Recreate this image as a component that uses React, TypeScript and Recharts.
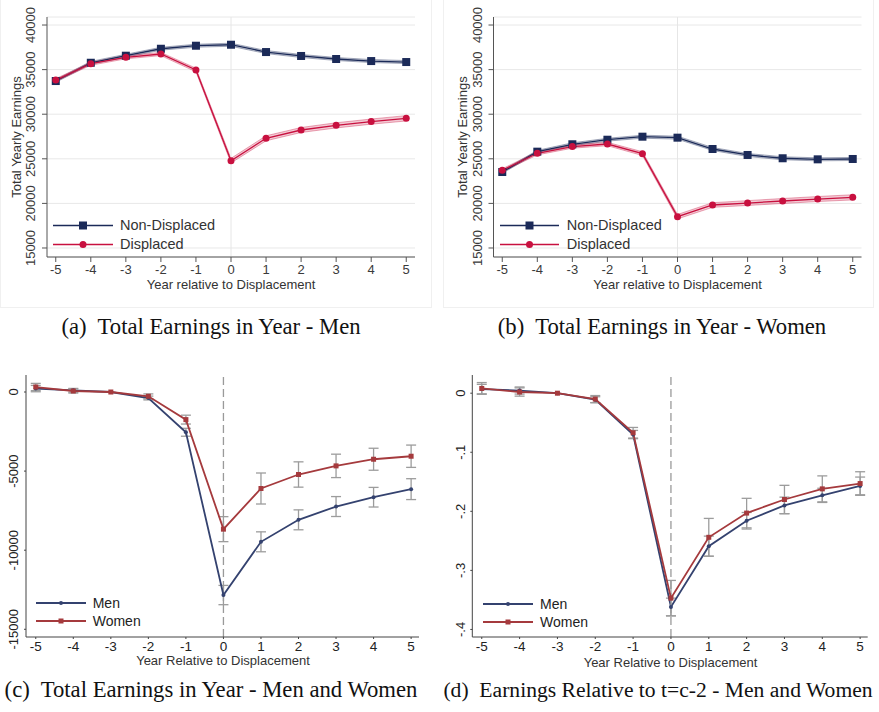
import React from "react";
import {
  ComposedChart, Line, Area, XAxis, YAxis, CartesianGrid,
  ReferenceLine, Legend, ErrorBar,
} from "recharts";

// years relative to displacement
const years = [-5, -4, -3, -2, -1, 0, 1, 2, 3, 4, 5];

// (a) men, total yearly earnings
const nonDispMen = [33720, 35770, 36560, 37340, 37680, 37790, 36970, 36530, 36190, 35960, 35850];
const dispMen = [33830, 35660, 36380, 36750, 34960, 24790, 27300, 28230, 28750, 29170, 29540];
const nonDispMenCi = [150, 150, 160, 160, 170, 170, 170, 170, 170, 170, 170];
const dispMenCi = [160, 170, 170, 180, 200, 260, 280, 280, 290, 290, 300];

// (b) women, total yearly earnings
const nonDispWomen = [23520, 25800, 26630, 27140, 27480, 27370, 26100, 25430, 25060, 24940, 24980];
const dispWomen = [23710, 25620, 26370, 26660, 25580, 18510, 19820, 20040, 20270, 20490, 20680];
const nonDispWomenCi = [150, 150, 160, 160, 170, 170, 170, 170, 170, 170, 170];
const dispWomenCi = [170, 180, 180, 190, 210, 250, 260, 270, 280, 280, 290];

// (c) earnings loss, levels
const menLevel = [215, 107, 0, -380, -2545, -12835, -9470, -8080, -7240, -6650, -6140];
const womenLevel = [315, 63, 0, -270, -1745, -8670, -6100, -5215, -4670, -4250, -4060];
const menLevelErr = [200, 120, 0, 120, 250, 610, 630, 630, 630, 620, 660];
const womenLevelErr = [230, 130, 0, 150, 280, 790, 980, 800, 740, 695, 705];

// (d) earnings relative to t=c-2
const menRel = [0.007, 0.0045, 0, -0.011, -0.07, -0.362, -0.259, -0.216, -0.19, -0.173, -0.157];
const womenRel = [0.008, 0.002, 0, -0.01, -0.067, -0.347, -0.244, -0.203, -0.18, -0.162, -0.153];
const menRelErr = [0.008, 0.006, 0, 0.005, 0.007, 0.015, 0.017, 0.014, 0.014, 0.012, 0.015];
const womenRelErr = [0.01, 0.007, 0, 0.006, 0.009, 0.03, 0.032, 0.025, 0.024, 0.022, 0.02];

const levelTicks = [15000, 20000, 25000, 30000, 35000, 40000];
const lossTicks = [-15000, -10000, -5000, 0];
const relTicks = [-0.4, -0.3, -0.2, -0.1, 0];

const NAVY = "#1b2a58";
const CRIMSON = "#c8103f";
const NAVY2 = "#34426f";
const BRICK = "#a53a3d";
const SANS = 'Arial, "Liberation Sans", Helvetica, sans-serif';
const SERIF = '"Liberation Serif", "Times New Roman", Times, serif';

const band = (v: number[], ci: number[]) => v.map((x, i) => [x - ci[i], x + ci[i]]);

const dataA = years.map((yr, i) => ({
  yr, nd: nonDispMen[i], d: dispMen[i],
  ndBand: band(nonDispMen, nonDispMenCi)[i], dBand: band(dispMen, dispMenCi)[i],
}));
const dataB = years.map((yr, i) => ({
  yr, nd: nonDispWomen[i], d: dispWomen[i],
  ndBand: band(nonDispWomen, nonDispWomenCi)[i], dBand: band(dispWomen, dispWomenCi)[i],
}));
const dataC = years.map((yr, i) => ({
  yr, men: menLevel[i], women: womenLevel[i], menErr: menLevelErr[i], womenErr: womenLevelErr[i],
}));
const dataD = years.map((yr, i) => ({
  yr, men: menRel[i], women: womenRel[i], menErr: menRelErr[i], womenErr: womenRelErr[i],
}));

const rotTick = (gap: number, color: string, fmt: (v: number) => string = String) => (p: any) => (
  <g transform={`translate(${p.x},${p.y}) rotate(-90)`}>
    <text x={0} y={-gap} textAnchor="middle" fill={color} fontSize={13} fontFamily={SANS}>
      {fmt(p.payload.value)}
    </text>
  </g>
);

const squareDot = (size: number, color: string) => (p: any) => (
  <rect key={`sq-${p.index}`} x={p.cx - size / 2} y={p.cy - size / 2} width={size} height={size} fill={color} />
);

type Item = { name: string; color: string; shape: "square" | "circle"; size: number; lw: number };

function LegendBox({ items, lineW, gap, fontSize, rowH, color }: {
  items: Item[]; lineW: number; gap: number; fontSize: number; rowH: number; color: string;
}) {
  return (
    <div style={{ fontSize, color, fontFamily: SANS, whiteSpace: "nowrap" }}>
      {items.map((it) => (
        <div key={it.name} style={{ display: "flex", alignItems: "center", height: rowH }}>
          <svg width={lineW} height={rowH} style={{ display: "block" }}>
            <line x1={0} x2={lineW} y1={rowH / 2} y2={rowH / 2} stroke={it.color} strokeWidth={it.lw} />
            {it.shape === "square" ? (
              <rect x={lineW / 2 - it.size / 2} y={rowH / 2 - it.size / 2} width={it.size} height={it.size} fill={it.color} />
            ) : (
              <circle cx={lineW / 2} cy={rowH / 2} r={it.size / 2} fill={it.color} />
            )}
          </svg>
          <span style={{ marginLeft: gap }}>{it.name}</span>
        </div>
      ))}
    </div>
  );
}

function TopPanel({ data, left, width, axisW, rightM, legLeft, legLine, legGap }: any) {
  const items: Item[] = [
    { name: "Non-Displaced", color: NAVY, shape: "square", size: 8, lw: 1.3 },
    { name: "Displaced", color: CRIMSON, shape: "circle", size: 7, lw: 1.3 },
  ];
  return (
    <div style={{ position: "absolute", left, top: 0 }}>
      <ComposedChart width={width} height={300} data={data} margin={{ top: 17, right: rightM, bottom: 0, left: 0 }}>
        <CartesianGrid horizontal vertical={false} stroke="#e8e8e8" />
        <ReferenceLine x={0} stroke="#e6e6e6" strokeWidth={1} />
        <XAxis
          type="number" dataKey="yr" domain={[-5.25, 5.25]} ticks={years} allowDataOverflow
          height={43} stroke="#555" tickSize={5} tickMargin={3}
          tick={{ fill: "#3a3a3a", fontSize: 13, fontFamily: SANS }}
        />
        <YAxis
          type="number" domain={[13990, 40900]} ticks={levelTicks} allowDataOverflow
          width={axisW} stroke="#555" tickSize={5} tickMargin={0}
          tick={rotTick(7, "#3a3a3a")}
        />
        <Area type="linear" dataKey="ndBand" stroke={NAVY} strokeOpacity={0.45} strokeWidth={0.8}
          fill={NAVY} fillOpacity={0.22} isAnimationActive={false} />
        <Area type="linear" dataKey="dBand" stroke={CRIMSON} strokeOpacity={0.45} strokeWidth={0.8}
          fill={CRIMSON} fillOpacity={0.22} isAnimationActive={false} />
        <Line type="linear" dataKey="nd" stroke={NAVY} strokeWidth={1.3} dot={squareDot(8, NAVY)} isAnimationActive={false} />
        <Line type="linear" dataKey="d" stroke={CRIMSON} strokeWidth={1.3}
          dot={{ r: 3.5, fill: CRIMSON, stroke: "none" }} isAnimationActive={false} />
        <Legend
          layout="vertical" align="center" verticalAlign="middle"
          wrapperStyle={{ left: legLeft, top: 215.5, width: "auto" }}
          content={() => <LegendBox items={items} lineW={legLine} gap={legGap} fontSize={14.5} rowH={19} color="#333" />}
        />
      </ComposedChart>
    </div>
  );
}

function BottomPanel({ data, left, width, axisW, rightM, xDomain, yDomain, yTicks, tickGap, fmt, legLeft, legTop }: any) {
  const items: Item[] = [
    { name: "Men", color: NAVY2, shape: "circle", size: 4, lw: 1.8 },
    { name: "Women", color: BRICK, shape: "square", size: 5, lw: 1.8 },
  ];
  return (
    <div style={{ position: "absolute", left, top: 360 }}>
      <ComposedChart width={width} height={310} data={data} margin={{ top: 15, right: rightM, bottom: 0, left: 0 }}>
        <ReferenceLine x={0} stroke="#9a9a9a" strokeWidth={1.3} strokeDasharray="8 4" />
        <XAxis
          type="number" dataKey="yr" domain={xDomain} ticks={years} allowDataOverflow
          height={33} stroke="#444" tickSize={2} tickMargin={2.5}
          tick={{ fill: "#222", fontSize: 13.5, fontFamily: SANS }}
        />
        <YAxis
          type="number" domain={yDomain} ticks={yTicks} allowDataOverflow
          width={axisW} stroke="#444" tickSize={2} tickMargin={0}
          tick={rotTick(tickGap, "#222", fmt)}
        />
        <Line type="linear" dataKey="men" stroke={NAVY2} strokeWidth={1.8}
          dot={{ r: 2, fill: NAVY2, stroke: "none" }} isAnimationActive={false}>
          <ErrorBar dataKey="menErr" direction="y" width={5} stroke="#9c9c9c" strokeWidth={1.3} />
        </Line>
        <Line type="linear" dataKey="women" stroke={BRICK} strokeWidth={1.8}
          dot={squareDot(5, BRICK)} isAnimationActive={false}>
          <ErrorBar dataKey="womenErr" direction="y" width={5} stroke="#9c9c9c" strokeWidth={1.3} />
        </Line>
        <Legend
          layout="vertical" align="center" verticalAlign="middle"
          wrapperStyle={{ left: legLeft, top: legTop, width: "auto" }}
          content={() => <LegendBox items={items} lineW={50} gap={6.7} fontSize={14} rowH={18} color="#222" />}
        />
      </ComposedChart>
    </div>
  );
}

const relFmt = (v: number) => (v === 0 ? "0" : v.toFixed(1).replace("0.", "."));

function Title({ text, x, top }: { text: string; x: number; top: number }) {
  return (
    <div style={{ position: "absolute", left: x, top, transform: "translateX(-50%)", fontFamily: SANS,
      fontSize: 13, lineHeight: "15px", color: "#333", whiteSpace: "nowrap" }}>{text}</div>
  );
}

function VTitle({ text, x, y }: { text: string; x: number; y: number }) {
  return (
    <div style={{ position: "absolute", left: x, top: y, transform: "translate(-50%,-50%) rotate(-90deg)",
      fontFamily: SANS, fontSize: 13, lineHeight: "15px", color: "#333", whiteSpace: "nowrap" }}>{text}</div>
  );
}

function Caption({ text, x, y, size = 22.7 }: { text: string; x: number; y: number; size?: number }) {
  return (
    <div style={{ position: "absolute", left: x, top: y, transform: "translate(-50%,-50%)",
      fontFamily: SERIF, fontSize: size, color: "#111", whiteSpace: "pre" }}>{text}</div>
  );
}

export default function App() {
  return (
    <div style={{ position: "absolute", left: 0, top: 0, width: 879, height: 712, background: "#fff", overflow: "hidden" }}>
      <div style={{ position: "absolute", left: 0, top: -1, width: 430, height: 307, border: "1px solid #f0f0f0" }} />
      <div style={{ position: "absolute", left: 443, top: -1, width: 429, height: 307, border: "1px solid #f0f0f0" }} />

      <TopPanel data={dataA} left={0} width={430} axisW={47} rightM={15} legLeft={53} legLine={60} legGap={7} />
      <TopPanel data={dataB} left={440} width={439} axisW={53.5} rightM={17.5} legLeft={60} legLine={59} legGap={7.7} />
      <BottomPanel data={dataC} left={0} width={430} axisW={26} rightM={11} xDomain={[-5.26, 5.21]}
        yDomain={[-15487, 1075]} yTicks={lossTicks} tickGap={6} fmt={String} legLeft={36} legTop={233.7} />
      <BottomPanel data={dataD} left={440} width={439} axisW={32.3} rightM={11.3} xDomain={[-5.25, 5.2]}
        yDomain={[-0.4128, 0.0308]} yTicks={relTicks} tickGap={5.3} fmt={relFmt} legLeft={43.3} legTop={235} />

      <VTitle text="Total Yearly Earnings" x={15.5} y={137} />
      <VTitle text="Total Yearly Earnings" x={462.2} y={137} />
      <Title text="Year relative to Displacement" x={231} top={277} />
      <Title text="Year relative to Displacement" x={677.5} top={277} />
      <Title text="Year Relative to Displacement" x={223} top={652.5} />
      <Title text="Year Relative to Displacement" x={670.5} top={654.7} />

      <Caption text="(a)  Total Earnings in Year - Men" x={211} y={327} />
      <Caption text="(b)  Total Earnings in Year - Women" x={662} y={327} />
      <Caption text="(c)  Total Earnings in Year - Men and Women" x={211} y={690} />
      <Caption text="(d)  Earnings Relative to t=c-2 - Men and Women" x={658} y={690} size={21.6} />
    </div>
  );
}
